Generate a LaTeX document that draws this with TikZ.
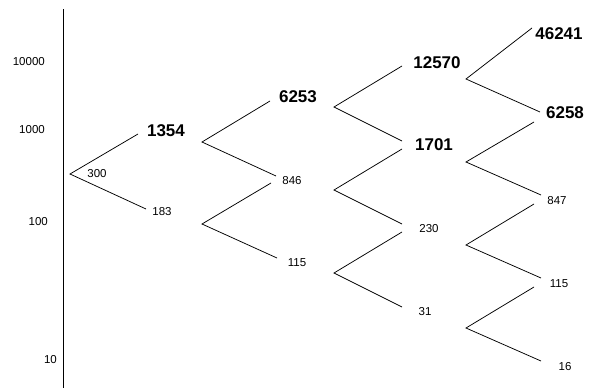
\documentclass[tikz,border=0pt]{standalone}
\usepackage{fontspec}
\setmainfont{Liberation Sans}
\begin{document}
\begin{tikzpicture}[x=1pt,y=-1pt,
  small/.style={font=\fontsize{11.5}{13}\selectfont, inner sep=0pt},
  big/.style={font=\fontsize{17}{19}\selectfont\bfseries, inner sep=0pt},
  axlab/.style={font=\fontsize{11.5}{13}\selectfont, inner sep=0pt, anchor=east},
  branch/.style={draw, line width=0.75pt}]
\useasboundingbox (0,0) rectangle (594,388);
% axis
\coordinate (axt) at (63,9);
\coordinate (axb) at (63,388);
\draw[line width=0.9pt] (axt) -- (axb);
\node[axlab] (l10000) at (45,62) {10000};
\node[axlab] (l1000) at (45,130) {1000};
\node[axlab] (l100) at (48,222) {100};
\node[axlab] (l10) at (57,360) {10};
% column 1
\coordinate (v0) at (70,174);
\coordinate (e0u) at (138,134);
\coordinate (e0d) at (146,209);
\draw[branch] (e0u) -- (v0) -- (e0d);
\node[small] (n300) at (97,174) {300};
\node[big] (n1354) at (166,131) {1354};
\node[small] (n183) at (162,212) {183};
% column 2
\coordinate (v1a) at (202,142);
\coordinate (v1b) at (202,224);
\coordinate (e1au) at (270,101);
\coordinate (e1ad) at (276,176);
\coordinate (e1bu) at (271,183);
\coordinate (e1bd) at (277,258);
\draw[branch] (e1au) -- (v1a) -- (e1ad);
\draw[branch] (e1bu) -- (v1b) -- (e1bd);
\node[big] (n6253) at (298,97) {6253};
\node[small] (n846) at (292,181) {846};
\node[small] (n115a) at (297,263) {115};
% column 3
\coordinate (v2a) at (334,107);
\coordinate (v2b) at (334,190);
\coordinate (v2c) at (334,273);
\coordinate (e2au) at (402,66);
\coordinate (e2ad) at (402,141);
\coordinate (e2bu) at (402,149);
\coordinate (e2bd) at (402,224);
\coordinate (e2cu) at (402,232);
\coordinate (e2cd) at (402,307);
\draw[branch] (e2au) -- (v2a) -- (e2ad);
\draw[branch] (e2bu) -- (v2b) -- (e2bd);
\draw[branch] (e2cu) -- (v2c) -- (e2cd);
\node[big] (n12570) at (437,63) {12570};
\node[big] (n1701) at (434,145) {1701};
\node[small] (n230) at (429,229) {230};
\node[small] (n31) at (425,312) {31};
% column 4
\coordinate (v3a) at (466,79);
\coordinate (v3b) at (466,162);
\coordinate (v3c) at (466,245);
\coordinate (v3d) at (466,328);
\coordinate (e3au) at (532,28);
\coordinate (e3ad) at (540,112);
\coordinate (e3bu) at (534,122);
\coordinate (e3bd) at (541,195);
\coordinate (e3cu) at (534,204);
\coordinate (e3cd) at (541,278);
\coordinate (e3du) at (534,287);
\coordinate (e3dd) at (541,361);
\draw[branch] (e3au) -- (v3a) -- (e3ad);
\draw[branch] (e3bu) -- (v3b) -- (e3bd);
\draw[branch] (e3cu) -- (v3c) -- (e3cd);
\draw[branch] (e3du) -- (v3d) -- (e3dd);
\node[big] (n46241) at (559,34) {46241};
\node[big] (n6258) at (565,113) {6258};
\node[small] (n847) at (557,201) {847};
\node[small] (n115b) at (559,284) {115};
\node[small] (n16) at (565,367) {16};
\end{tikzpicture}
\end{document}
